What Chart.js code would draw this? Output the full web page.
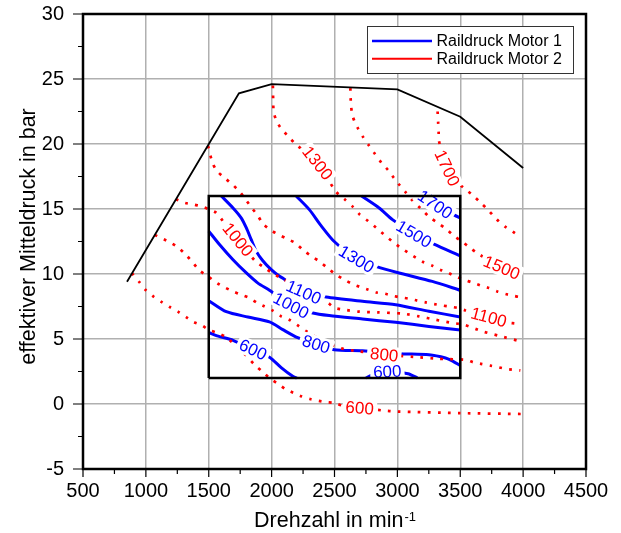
<!DOCTYPE html>
<html>
<head>
<meta charset="utf-8">
<script src="https://cdn.jsdelivr.net/npm/chart.js@4.4.1/dist/chart.umd.min.js"></script>
<style>
  html, body { margin: 0; padding: 0; background: #fff; }
  #wrap { width: 621px; height: 533px; }
</style>
</head>
<body>
<div id="wrap"><canvas id="kennfeld" width="621" height="533"></canvas></div>
<script>
/* Raildruck-Kennfeld Motor 1 / Motor 2 */

// Achsen
const rpmTicks = [500, 1000, 1500, 2000, 2500, 3000, 3500, 4000, 4500];
const barTicks = [-5, 0, 5, 10, 15, 20, 25, 30];

// Volllastlinie und Kennfeldbereich Motor 1
const fullLoad = [[850, 9.4], [1740, 23.9], [2000, 24.6], [3000, 24.2], [3500, 22.1], [4000, 18.15]];
const mapBox = [[1500, 2], [3500, 2], [3500, 16], [1500, 16], [1500, 2]];

// Motor 1 (blau) – Isolinien Raildruck [rpm, bar]
const m1_600a = [[1500, 5.5], [1575, 5.22], [1693, 4.9], [1852, 4.18], [1983, 3.6], [2076, 2.8], [2168, 2.13], [2200, 2.0]];
const m1_600b = [[2750, 2.0], [2790, 2.2], [2920, 2.5], [3085, 2.33], [3160, 2.0]];
const m1_800 = [[1500, 7.95], [1640, 7.1], [1811, 6.69], [1983, 6.32], [2089, 5.72], [2207, 5.1], [2354, 4.6], [2498, 4.18],
  [2723, 4.1], [3014, 3.87], [3251, 3.79], [3383, 3.54], [3440, 3.3], [3500, 2.95]];
const m1_1000 = [[1500, 13.3], [1587, 12.25], [1693, 11.1], [1799, 10.08], [1891, 9.3], [1983, 8.75], [2155, 7.58], [2327, 7.0],
  [2458, 6.8], [2723, 6.54], [2987, 6.28], [3251, 5.97], [3500, 5.7]];
const m1_1100 = [[1600, 16.0], [1693, 15.08], [1759, 14.3], [1799, 13.54], [1838, 12.64], [1878, 11.74], [1930, 11.02], [1997, 10.33],
  [2063, 9.82], [2090, 9.68], [2255, 8.6], [2433, 8.23], [2723, 7.9], [2987, 7.64], [3251, 7.13], [3500, 6.7]];
const m1_1300 = [[2195, 16.0], [2300, 14.95], [2393, 13.72], [2498, 12.5], [2675, 11.15], [2828, 10.59], [3014, 10.08], [3278, 9.43], [3500, 8.75]];
const m1_1500 = [[2715, 16.0], [2855, 15.08], [2961, 14.18], [3132, 13.08], [3291, 12.3], [3500, 11.4]];
const m1_1700 = [[3230, 16.0], [3300, 15.35], [3450, 14.55], [3500, 14.3]];

// Motor 2 (rot)
const m2_600 = [[890, 10.05], [950, 9.35], [1000, 8.75], [1065, 8.23], [1130, 7.82], [1190, 7.46], [1255, 7.1], [1320, 6.69],
  [1380, 6.3], [1445, 6.05], [1500, 5.7], [1575, 5.45], [1635, 5.15], [1750, 4.2], [1865, 3.02], [1925, 2.5], [1990, 1.95],
  [2053, 1.54], [2110, 1.15], [2176, 0.85], [2240, 0.58], [2306, 0.38], [2372, 0.25], [2433, 0.15], [2500, 0.08], [2600, -0.25],
  [2700, -0.3], [2800, -0.4], [2876, -0.49], [3000, -0.58], [3500, -0.7], [4000, -0.77]];
const m2_800 = [[1072, 13.0], [1138, 12.69], [1199, 12.4], [1262, 12.0], [1323, 11.43], [1376, 10.85], [1429, 10.25], [1494, 9.82],
  [1566, 9.3], [1627, 8.97], [1693, 8.66], [1759, 8.4], [1825, 8.15], [1886, 7.77], [1944, 7.5], [2010, 7.18], [2076, 6.74],
  [2136, 6.5], [2200, 6.1], [2266, 5.66], [2390, 4.95], [2507, 4.42], [2578, 4.22], [2658, 4.1], [2895, 3.8], [3132, 3.62],
  [3317, 3.48], [3400, 3.45], [3542, 3.4], [3608, 3.2], [3674, 3.07], [3740, 2.95], [3806, 2.82], [3872, 2.69], [3978, 2.58]];
const m2_1000 = [[1240, 15.75], [1310, 15.47], [1376, 15.35], [1442, 15.2], [1508, 14.95], [1561, 14.7], [1614, 14.05], [1732, 12.65],
  [1872, 10.97], [1943, 10.5], [2004, 10.08], [2100, 9.55], [2200, 9.0], [2300, 8.5], [2446, 7.8], [2498, 7.4], [2578, 7.25],
  [2700, 7.1], [2840, 7.05], [3040, 6.95], [3172, 6.74], [3304, 6.48], [3436, 6.23], [3529, 6.1], [3674, 5.59], [3806, 5.25], [3978, 4.82]];
const m2_1100 = [[1494, 19.85], [1529, 18.58], [1563, 17.95], [1627, 17.38], [1690, 16.87], [1748, 16.3], [1799, 15.66], [1843, 15.07],
  [1891, 14.48], [1930, 13.87], [1997, 13.35], [2057, 13.02], [2120, 12.72], [2189, 12.38], [2253, 11.82], [2319, 11.35],
  [2380, 10.97], [2445, 10.46], [2512, 9.95], [2578, 9.56], [2643, 9.23], [2705, 9.0], [2770, 8.79], [2834, 8.58], [2903, 8.48],
  [2961, 8.33], [3027, 8.2], [3093, 8.1], [3159, 7.95], [3225, 7.82], [3291, 7.69], [3357, 7.58], [3423, 7.48], [3483, 7.38],
  [3540, 7.2], [3600, 6.95], [3727, 6.68], [3850, 6.3], [3976, 6.15]];
const m2_1300 = [[2010, 24.5], [2012, 23.5], [2016, 22.5], [2035, 21.87], [2069, 21.28], [2127, 20.64], [2188, 20.02], [2251, 19.51],
  [2365, 18.54], [2510, 16.35], [2578, 15.77], [2643, 15.2], [2702, 14.56], [2771, 14.05], [2834, 13.54], [2895, 13.02],
  [2961, 12.5], [3022, 12.05], [3088, 11.62], [3152, 11.23], [3212, 10.89], [3278, 10.64], [3340, 10.33], [3405, 10.08],
  [3471, 9.77], [3529, 9.56], [3595, 9.35], [3662, 9.12], [3728, 8.92], [3794, 8.66], [3860, 8.46], [3918, 8.33], [3984, 8.2]];
const m2_1500 = [[2626, 24.3], [2631, 23.0], [2643, 22.2], [2665, 21.6], [2690, 21.15], [2730, 20.5], [2775, 19.87], [2822, 19.23],
  [2875, 18.54], [2928, 17.97], [2973, 17.38], [3021, 16.79], [3071, 16.23], [3119, 15.66], [3190, 15.0], [3259, 14.35],
  [3325, 13.9], [3388, 13.46], [3455, 12.89], [3514, 12.5], [3580, 12.0], [3646, 11.54], [3830, 10.5], [3990, 10.15]];
const m2_1700 = [[3320, 22.5], [3324, 21.7], [3328, 20.9], [3330, 20.3], [3350, 19.5], [3396, 18.15], [3460, 17.2], [3528, 16.62],
  [3594, 16.1], [3660, 15.5], [3727, 14.87], [3787, 14.23], [3853, 13.66], [3914, 13.28], [3977, 12.85]];

// Beschriftungen der Isolinien [Text, rpm, bar]
const m1Labels = [['600', 1852, 4.18], ['600', 2920, 2.5], ['800', 2354, 4.6], ['1000', 2155, 7.58], ['1100', 2255, 8.6],
  ['1300', 2675, 11.15], ['1500', 3132, 13.08], ['1700', 3300, 15.35]];
const m2Labels = [['600', 2700, -0.3], ['800', 2895, 3.8], ['1000', 1732, 12.65], ['1100', 3727, 6.68], ['1300', 2365, 18.54],
  ['1500', 3830, 10.5], ['1700', 3396, 18.15]];

const legendNames = ['Raildruck Motor 1', 'Raildruck Motor 2'];

const FONT = "'Liberation Sans', Arial, sans-serif";
const BLUE = '#0000ff';
const RED = '#ff0000';

const m1Lines = [m1_600a, m1_600b, m1_800, m1_1000, m1_1100, m1_1300, m1_1500, m1_1700];
const m2Lines = [m2_600, m2_800, m2_1000, m2_1100, m2_1300, m2_1500, m2_1700];

function lineSet(pts, color, dotted) {
    return {
        data: pts.map(([x, y]) => ({ x, y })),
        showLine: true,
        borderColor: color,
        backgroundColor: color,
        borderWidth: dotted ? 2.7 : 3,
        borderDash: dotted ? [2.7, 7.3] : [],
        pointRadius: 0,
        tension: 0.25,
        fill: false
    };
}

function outlineSet(pts, width) {
    return {
        data: pts.map(([x, y]) => ({ x, y })),
        showLine: true, borderColor: '#000', borderWidth: width,
        pointRadius: 0, tension: 0, fill: false, order: -1, outline: true
    };
}

const datasets = [
    ...m2Lines.map(p => lineSet(p, RED, true)),
    ...m1Lines.map(p => lineSet(p, BLUE, false)),
    outlineSet(fullLoad, 1.8),
    outlineSet(mapBox, 2.5)
];

let labelsDone = false;

function drawLabels(chart) {
    const { ctx, scales: { x, y } } = chart;
    ctx.save();
    ctx.font = '17px ' + FONT;
    ctx.textAlign = 'center';
    ctx.textBaseline = 'middle';
    [[m1Labels, m1Lines, BLUE], [m2Labels, m2Lines, RED]].forEach(([labels, lines, color]) => {
        labels.forEach(([text, rx, ry]) => {
            const px = x.getPixelForValue(rx), py = y.getPixelForValue(ry);
            // Richtung der Linie am naechsten Stuetzpunkt
            let best = null, bd = Infinity;
            lines.forEach(pts => pts.forEach((p, i) => {
                const d = Math.hypot(x.getPixelForValue(p[0]) - px, y.getPixelForValue(p[1]) - py);
                if (d < bd) { bd = d; best = [pts, i]; }
            }));
            const [pts, i] = best;
            const a = pts[Math.max(i - 1, 0)], b = pts[Math.min(i + 1, pts.length - 1)];
            let ang = Math.atan2(y.getPixelForValue(b[1]) - y.getPixelForValue(a[1]),
                x.getPixelForValue(b[0]) - x.getPixelForValue(a[0]));
            if (ang > Math.PI / 2) ang -= Math.PI;
            if (ang < -Math.PI / 2) ang += Math.PI;
            ctx.save();
            ctx.translate(px, py);
            ctx.rotate(ang);
            const w = ctx.measureText(text).width;
            ctx.fillStyle = '#fff';
            ctx.fillRect(-w / 2 - 3, -8.5, w + 6, 17);
            ctx.fillStyle = color;
            ctx.fillText(text, 0, 1);
            ctx.restore();
        });
    });
    ctx.restore();
}

const decorPlugin = {
    id: 'decor',
    beforeDatasetsDraw() { labelsDone = false; },
    beforeDatasetDraw(chart, args) {
        if (!labelsDone && chart.data.datasets[args.index].outline) {
            drawLabels(chart);
            labelsDone = true;
        }
    },
    afterDraw(chart) {
        const { ctx, chartArea: ca, scales: { x, y } } = chart;
        ctx.save();

        // Rahmen
        ctx.strokeStyle = '#000';
        ctx.lineWidth = 2.5;
        ctx.strokeRect(ca.left, ca.top, ca.right - ca.left, ca.bottom - ca.top);

        // Teilstriche
        ctx.lineWidth = 1.2;
        ctx.beginPath();
        rpmTicks.forEach((v, i) => {
            const px = x.getPixelForValue(v);
            ctx.moveTo(px, ca.bottom); ctx.lineTo(px, ca.bottom + 8);
            if (i < rpmTicks.length - 1) {
                const pm = x.getPixelForValue((v + rpmTicks[i + 1]) / 2);
                ctx.moveTo(pm, ca.bottom); ctx.lineTo(pm, ca.bottom + 5);
            }
        });
        barTicks.forEach((v, i) => {
            const py = y.getPixelForValue(v);
            ctx.moveTo(ca.left, py); ctx.lineTo(ca.left - 10, py);
            if (i < barTicks.length - 1) {
                const pm = y.getPixelForValue((v + barTicks[i + 1]) / 2);
                ctx.moveTo(ca.left, pm); ctx.lineTo(ca.left - 5, pm);
            }
        });
        ctx.stroke();

        // Achsentitel
        ctx.fillStyle = '#000';
        ctx.textBaseline = 'alphabetic';
        ctx.textAlign = 'left';
        const main = 'Drehzahl in min', sup = '-1';
        ctx.font = '21.5px ' + FONT;
        const wMain = ctx.measureText(main).width;
        ctx.font = '13px ' + FONT;
        const wSup = ctx.measureText(sup).width;
        const x0 = (ca.left + ca.right) / 2 - (wMain + wSup) / 2;
        const base = ca.bottom + 58;
        ctx.font = '21.5px ' + FONT;
        ctx.fillText(main, x0, base);
        ctx.font = '13px ' + FONT;
        ctx.fillText(sup, x0 + wMain + 1, base - 6);

        ctx.save();
        ctx.translate(ca.left - 48, (ca.top + ca.bottom) / 2 - 5);
        ctx.rotate(-Math.PI / 2);
        ctx.font = '21.5px ' + FONT;
        ctx.textAlign = 'center';
        ctx.fillText('effektiver Mitteldruck in bar', 0, 0);
        ctx.restore();

        // Legende
        const lx = ca.right - 219, ly = ca.top + 12, lw = 206, lh = 47;
        ctx.fillStyle = '#fff';
        ctx.fillRect(lx, ly, lw, lh);
        ctx.strokeStyle = '#333';
        ctx.lineWidth = 1;
        ctx.strokeRect(lx + 0.5, ly + 0.5, lw, lh);
        [[BLUE, 2.5], [RED, 2]].forEach(([c, w], i) => {
            const yy = ly + 15 + i * 17.7;
            ctx.strokeStyle = c;
            ctx.lineWidth = w;
            ctx.beginPath();
            ctx.moveTo(lx + 5, yy); ctx.lineTo(lx + 65, yy);
            ctx.stroke();
            ctx.fillStyle = '#000';
            ctx.font = '16px ' + FONT;
            ctx.textBaseline = 'middle';
            ctx.textAlign = 'left';
            ctx.fillText(legendNames[i], lx + 69.5, yy + 1);
        });
        ctx.restore();
    }
};

new Chart(document.getElementById('kennfeld'), {
    type: 'scatter',
    data: { datasets },
    options: {
        responsive: false,
        animation: false,
        devicePixelRatio: 1,
        layout: { padding: { left: 0, top: 14, right: 35, bottom: 0 } },
        plugins: { legend: { display: false }, tooltip: { enabled: false } },
        scales: {
            x: {
                type: 'linear', min: rpmTicks[0], max: rpmTicks[rpmTicks.length - 1],
                afterBuildTicks: s => { s.ticks = rpmTicks.map(v => ({ value: v })); },
                afterFit: s => { s.height = 64; s.paddingLeft = 0; s.paddingRight = 0; },
                grid: { color: '#b0b0b0', lineWidth: 1.5, drawTicks: false },
                border: { display: false },
                ticks: { color: '#000', padding: 10, maxRotation: 0, autoSkip: false,
                    font: { family: FONT, size: 20 }, callback: v => String(v) }
            },
            y: {
                type: 'linear', min: barTicks[0], max: barTicks[barTicks.length - 1],
                afterBuildTicks: s => { s.ticks = barTicks.map(v => ({ value: v })); },
                afterFit: s => { s.width = 83; s.paddingTop = 0; s.paddingBottom = 0; },
                grid: { color: '#b0b0b0', lineWidth: 1.5, drawTicks: false },
                border: { display: false },
                ticks: { color: '#000', padding: 19, autoSkip: false,
                    font: { family: FONT, size: 20 }, callback: v => String(v) }
            }
        }
    },
    plugins: [decorPlugin]
});
</script>
</body>
</html>
